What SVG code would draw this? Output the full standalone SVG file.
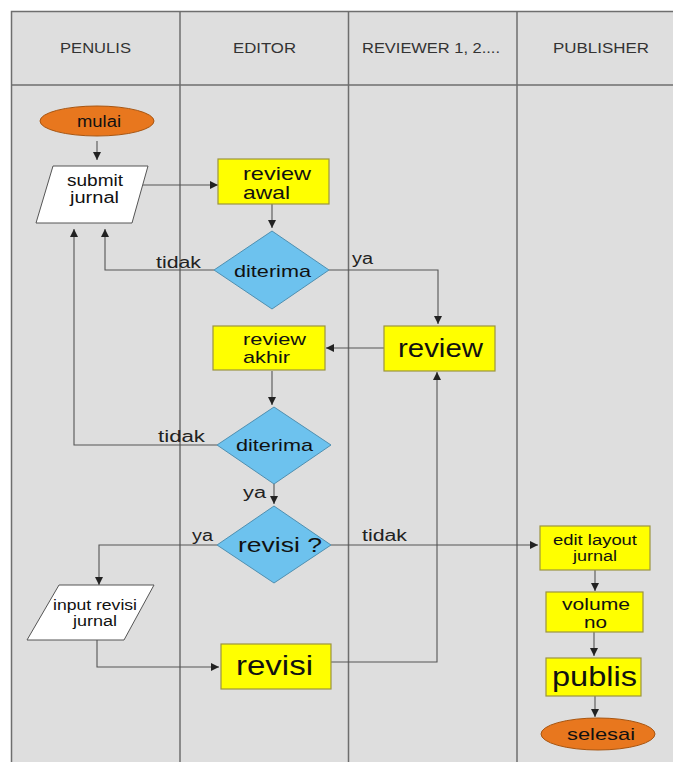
<svg xmlns="http://www.w3.org/2000/svg" width="673" height="762" viewBox="0 0 673 762">
  <defs>
    <marker id="arrow" viewBox="0 0 10 10" refX="10" refY="5" markerWidth="8" markerHeight="8" markerUnits="userSpaceOnUse" orient="auto">
      <path d="M0,0 L10,5 L0,10 z" fill="#222"/>
    </marker>
    <style>
      .lane { stroke: #6e6e6e; stroke-width: 1.5; fill: none; }
      .head { font-family: "Liberation Sans", Arial, sans-serif; font-size: 15px; fill: #333; text-anchor: middle; }
      .proc { fill: #ffff00; stroke: #9c9440; stroke-width: 1.2; }
      .dec { fill: #6dc2ee; stroke: #4f8fb0; stroke-width: 1; }
      .term { fill: #e8771e; stroke: #a85510; stroke-width: 1; }
      .io { fill: #ffffff; stroke: #555; stroke-width: 1; }
      .t { font-family: "Liberation Sans", Arial, sans-serif; fill: #111; }
      .c { text-anchor: middle; }
      .lbl { font-family: "Liberation Sans", Arial, sans-serif; font-size: 16px; fill: #222; }
      .conn path { stroke: #555; stroke-width: 1.1; fill: none; }
      .conn .a { marker-end: url(#arrow); }
    </style>
  </defs>

  <!-- swimlane frame -->
  <rect x="0" y="0" width="673" height="762" fill="#ffffff"/>
  <rect x="11.5" y="11.5" width="670" height="760" fill="#dedede" stroke="#6e6e6e" stroke-width="1.5"/>
  <g id="lanes">
    <path class="lane" d="M11.5,85 H673"/>
    <path class="lane" d="M180,11.5 V762"/>
    <path class="lane" d="M348.5,11.5 V762"/>
    <path class="lane" d="M517,11.5 V762"/>
    <text class="head" x="95.5" y="53" textLength="71" lengthAdjust="spacingAndGlyphs">PENULIS</text>
    <text class="head" x="264.5" y="53" textLength="63" lengthAdjust="spacingAndGlyphs">EDITOR</text>
    <text class="head" x="431" y="53" textLength="138" lengthAdjust="spacingAndGlyphs">REVIEWER 1, 2....</text>
    <text class="head" x="601" y="53" textLength="96" lengthAdjust="spacingAndGlyphs">PUBLISHER</text>
  </g>

  <!-- connectors -->
  <g id="connectors" class="conn">
    <path class="a" d="M97,141 V160"/>
    <path class="a" d="M143,185 H218"/>
    <path class="a" d="M272,204 V228"/>
    <path class="a" d="M214,270 H105 V229"/>
    <path class="a" d="M329,270 H438 V324"/>
    <path class="a" d="M384,348 H326"/>
    <path class="a" d="M272,371 V405"/>
    <path class="a" d="M217,445 H74 V229"/>
    <path class="a" d="M274,484 V504"/>
    <path class="a" d="M217,545 H99 V585"/>
    <path class="a" d="M331,545 H538"/>
    <path class="a" d="M97,640 V667 H219"/>
    <path class="a" d="M331,662 H437 V372"/>
    <path class="a" d="M595,570 V591"/>
    <path class="a" d="M594,632 V656"/>
    <path class="a" d="M595,696 V717"/>
    <text class="lbl" x="156" y="268" textLength="45" lengthAdjust="spacingAndGlyphs">tidak</text>
    <text class="lbl" x="352" y="264" textLength="21" lengthAdjust="spacingAndGlyphs">ya</text>
    <text class="lbl" x="158" y="442" textLength="47" lengthAdjust="spacingAndGlyphs">tidak</text>
    <text class="lbl" x="243" y="498" textLength="23" lengthAdjust="spacingAndGlyphs">ya</text>
    <text class="lbl" x="192" y="541" textLength="21" lengthAdjust="spacingAndGlyphs">ya</text>
    <text class="lbl" x="362" y="541" textLength="45" lengthAdjust="spacingAndGlyphs">tidak</text>
  </g>

  <g id="mulai">
    <ellipse class="term" cx="97" cy="121" rx="57" ry="15"/>
    <text class="t c" x="99" y="127" font-size="16" textLength="44" lengthAdjust="spacingAndGlyphs">mulai</text>
  </g>

  <g id="submit-jurnal">
    <polygon class="io" points="53,166 148,166 132,223 36,223"/>
    <text class="t c" x="95" y="186" font-size="16" textLength="56" lengthAdjust="spacingAndGlyphs">submit</text>
    <text class="t c" x="94.5" y="203" font-size="16" textLength="49" lengthAdjust="spacingAndGlyphs">jurnal</text>
  </g>

  <g id="review-awal">
    <rect class="proc" x="218" y="159" width="111" height="45"/>
    <text class="t" x="243" y="180" font-size="19" textLength="68" lengthAdjust="spacingAndGlyphs">review</text>
    <text class="t" x="243" y="199" font-size="19" textLength="47" lengthAdjust="spacingAndGlyphs">awal</text>
  </g>

  <g id="diterima-1">
    <polygon class="dec" points="272,231 329,270 272,309 214,270"/>
    <text class="t c" x="272.5" y="277" font-size="17" textLength="77" lengthAdjust="spacingAndGlyphs">diterima</text>
  </g>

  <g id="review">
    <rect class="proc" x="384" y="326" width="111" height="45"/>
    <text class="t c" x="440.5" y="357" font-size="25" textLength="85" lengthAdjust="spacingAndGlyphs">review</text>
  </g>

  <g id="review-akhir">
    <rect class="proc" x="213" y="326" width="112" height="44"/>
    <text class="t" x="243" y="345" font-size="17" textLength="63" lengthAdjust="spacingAndGlyphs">review</text>
    <text class="t" x="243" y="363" font-size="17" textLength="47" lengthAdjust="spacingAndGlyphs">akhir</text>
  </g>

  <g id="diterima-2">
    <polygon class="dec" points="274,407 331,445 274,484 217,445"/>
    <text class="t c" x="274.5" y="451" font-size="17" textLength="77" lengthAdjust="spacingAndGlyphs">diterima</text>
  </g>

  <g id="revisi-decision">
    <polygon class="dec" points="274,506 331,545 274,583 217,545"/>
    <text class="t c" x="280" y="552" font-size="21" textLength="84" lengthAdjust="spacingAndGlyphs">revisi ?</text>
  </g>

  <g id="input-revisi-jurnal">
    <polygon class="io" points="59,585 154,585 124,640 27,640"/>
    <text class="t c" x="95" y="610" font-size="14" textLength="84" lengthAdjust="spacingAndGlyphs">input revisi</text>
    <text class="t c" x="95" y="626" font-size="14" textLength="44" lengthAdjust="spacingAndGlyphs">jurnal</text>
  </g>

  <g id="revisi">
    <rect class="proc" x="221" y="644" width="110" height="45"/>
    <text class="t c" x="274.5" y="675" font-size="28" textLength="77" lengthAdjust="spacingAndGlyphs">revisi</text>
  </g>

  <g id="edit-layout-jurnal">
    <rect class="proc" x="540" y="526" width="110" height="44"/>
    <text class="t c" x="595" y="545" font-size="14" textLength="84" lengthAdjust="spacingAndGlyphs">edit layout</text>
    <text class="t c" x="595" y="561" font-size="14" textLength="44" lengthAdjust="spacingAndGlyphs">jurnal</text>
  </g>

  <g id="volume-no">
    <rect class="proc" x="546" y="592" width="97" height="40"/>
    <text class="t c" x="596" y="610" font-size="17" textLength="68" lengthAdjust="spacingAndGlyphs">volume</text>
    <text class="t c" x="595.5" y="628" font-size="17" textLength="23" lengthAdjust="spacingAndGlyphs">no</text>
  </g>

  <g id="publis">
    <rect class="proc" x="546" y="658" width="95" height="38"/>
    <text class="t c" x="594.5" y="686" font-size="28" textLength="85" lengthAdjust="spacingAndGlyphs">publis</text>
  </g>

  <g id="selesai">
    <ellipse class="term" cx="598" cy="734" rx="57" ry="16"/>
    <text class="t c" x="601" y="740" font-size="17" textLength="68" lengthAdjust="spacingAndGlyphs">selesai</text>
  </g>
</svg>
